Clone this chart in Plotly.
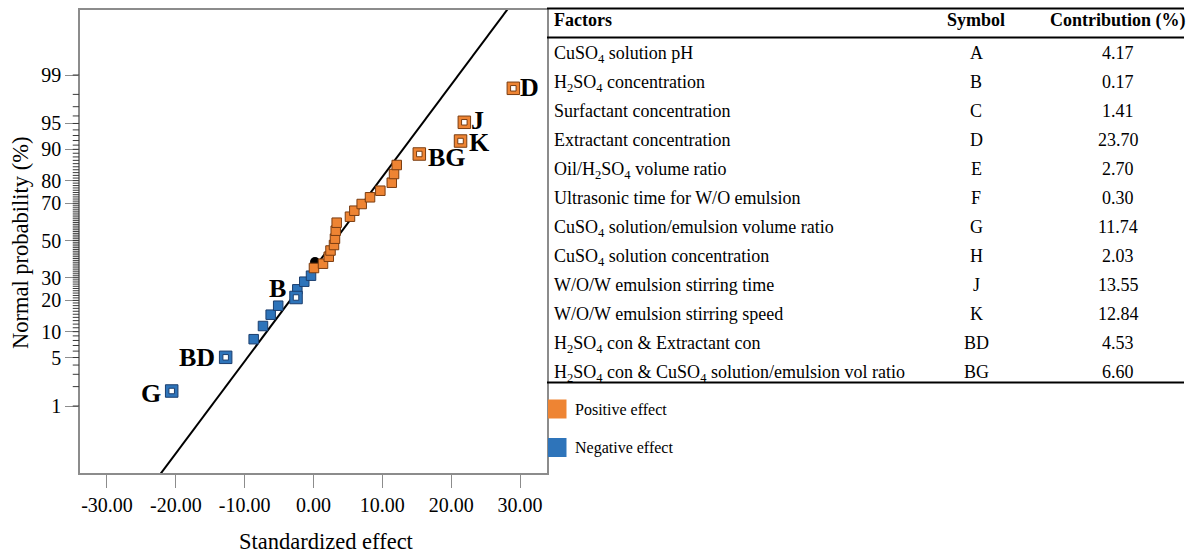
from statistics import NormalDist
import plotly.graph_objects as go

W, H = 1191, 557
SERIF = "Liberation Serif"
FRAME = "#8c8c8c"
MINOR = "#3a3a3a"
ORANGE, ORANGE_EDGE = "#EE8433", "#7a3c10"
BLUE, BLUE_EDGE = "#2E74BA", "#1b3e6e"

# ---- normal probability plot data (standardized effect, cumulative probability %) ----
pos_effect = [0.07, 1.38, 2.22, 2.47, 2.98, 3.12, 3.23, 3.37, 5.30, 5.93, 7.00, 8.21, 9.71, 11.37, 11.70, 12.09]
pos_prob = [34.95, 37.22, 40.99, 44.41, 47.48, 51.01, 55.48, 59.88, 63.10, 66.24, 69.60, 72.82, 75.80, 79.17, 82.51, 85.57]

neg_effect = [-8.69, -7.34, -6.22, -5.13, -2.35, -1.34, -0.36]
neg_prob = [8.27, 11.47, 14.85, 17.97, 24.63, 28.13, 31.04]

sig_terms = ["G", "BD", "B", "BG", "K", "J", "D"]
sig_effect = [-20.60, -12.76, -2.54, 15.37, 21.36, 21.91, 29.03]
sig_prob = [1.72, 5.03, 21.15, 88.80, 91.90, 95.17, 98.38]

center_effect = [0.22]
center_prob = [38.13]

# reference line: effect = mean + sd * z
fit_mean, fit_sd = 3.10, 7.72

y_tick_probs = [1, 5, 10, 20, 30, 50, 70, 80, 90, 95, 99]
y_minor_probs = list(range(1, 100))
x_tick_vals = [-30, -20, -10, 0, 10, 20, 30]

# ---- table data ----
factors = [
    "CuSO<sub>4</sub> solution pH",
    "H<sub>2</sub>SO<sub>4</sub> concentration",
    "Surfactant concentration",
    "Extractant concentration",
    "Oil/H<sub>2</sub>SO<sub>4</sub> volume ratio",
    "Ultrasonic time for W/O emulsion",
    "CuSO<sub>4</sub> solution/emulsion volume ratio",
    "CuSO<sub>4</sub> solution concentration",
    "W/O/W emulsion stirring time",
    "W/O/W emulsion stirring speed",
    "H<sub>2</sub>SO<sub>4</sub> con &amp; Extractant con",
    "H<sub>2</sub>SO<sub>4</sub> con &amp; CuSO<sub>4</sub> solution/emulsion vol ratio",
]
symbols = ["A", "B", "C", "D", "E", "F", "G", "H", "J", "K", "BD", "BG"]
contributions = ["4.17", "0.17", "1.41", "23.70", "2.70", "0.30", "11.74", "2.03", "13.55", "12.84", "4.53", "6.60"]

nd = NormalDist()


def z(p):
    return nd.inv_cdf(p / 100.0)


def fx(px):
    return px / W


def fy(py):
    return 1 - py / H


# plot area in pixels
PL, PR, PT, PB = 80, 547, 10, 473
Z_LO, Z_HI = -3.268, 3.240
Y_DOM = [fy(PB), fy(PT)]

fig = go.Figure()

# fitted normal line
zs = [Z_LO - 0.2, Z_HI + 0.2]
fig.add_trace(go.Scatter(x=[fit_mean + fit_sd * v for v in zs], y=zs, mode="lines",
                         line=dict(color="black", width=2), hoverinfo="skip"))

# center point
fig.add_trace(go.Scatter(x=center_effect, y=[z(p) for p in center_prob], mode="markers",
                         marker=dict(symbol="circle", size=10, color="black")))

# negative effects (filled)
fig.add_trace(go.Scatter(x=neg_effect, y=[z(p) for p in neg_prob], mode="markers",
                         marker=dict(symbol="square", size=9.5, color=BLUE,
                                     line=dict(color=BLUE_EDGE, width=1))))
# positive effects (filled)
fig.add_trace(go.Scatter(x=pos_effect, y=[z(p) for p in pos_prob], mode="markers",
                         marker=dict(symbol="square", size=9.5, color=ORANGE,
                                     line=dict(color=ORANGE_EDGE, width=1))))

# significant terms: ring squares
sig_col = [BLUE if e < 0 else ORANGE for e in sig_effect]
sig_edge = [BLUE_EDGE if e < 0 else ORANGE_EDGE for e in sig_effect]
sig_z = [z(p) for p in sig_prob]
fig.add_trace(go.Scatter(x=sig_effect, y=sig_z, mode="markers",
                         marker=dict(symbol="square", size=12.5, color=sig_col,
                                     line=dict(color=sig_edge, width=1))))
fig.add_trace(go.Scatter(x=sig_effect, y=sig_z, mode="markers",
                         marker=dict(symbol="square", size=5.5, color="white",
                                     line=dict(color=sig_edge, width=1))))

# minor probability ticks (one per percent), drawn in a narrow strip left of the axis
tick_x, tick_y = [], []
for p in y_minor_probs:
    tick_x += [0, 1, None]
    tick_y += [z(p), z(p), None]
fig.add_trace(go.Scatter(x=tick_x, y=tick_y, xaxis="x2", yaxis="y2", mode="lines",
                         line=dict(color=MINOR, width=1), hoverinfo="skip"))

# term labels
label_place = {
    "D": ("left", 6, 1),
    "J": ("left", 6, 2),
    "K": ("left", 7, -1),
    "BG": ("left", 8, -4),
    "B": ("right", -9, 9),
    "BD": ("right", -10, 0),
    "G": ("right", -10, -2),
}
annotations = []
for t, e, zz in zip(sig_terms, sig_effect, sig_z):
    anchor, dx, dy = label_place[t]
    annotations.append(dict(x=e, y=zz, xref="x", yref="y", text=f"<b>{t}</b>", showarrow=False,
                            xanchor=anchor, yanchor="middle", xshift=dx, yshift=dy, borderpad=0,
                            font=dict(family=SERIF, size=26, color="black")))

# axis titles
annotations.append(dict(x=fx(326), y=fy(541), xref="paper", yref="paper", text="Standardized effect",
                        showarrow=False, xanchor="center", yanchor="middle",
                        font=dict(family=SERIF, size=22.5, color="black")))
annotations.append(dict(x=fx(20), y=fy(243), xref="paper", yref="paper", text="Normal probability (%)",
                        showarrow=False, xanchor="center", yanchor="middle", textangle=-90,
                        font=dict(family=SERIF, size=22.5, color="black")))

# ---- table ----
TFONT = dict(family=SERIF, size=18, color="black")
HEAD_Y = 20
ROW0, ROW_STEP = 52.7, 29.0
X_FACT, X_SYM, X_CONT = 552, 976, 1118

annotations.append(dict(x=fx(X_FACT), y=fy(HEAD_Y), xref="paper", yref="paper", text="<b>Factors</b>",
                        showarrow=False, xanchor="left", yanchor="middle", font=TFONT))
annotations.append(dict(x=fx(X_SYM), y=fy(HEAD_Y), xref="paper", yref="paper", text="<b>Symbol</b>",
                        showarrow=False, xanchor="center", yanchor="middle", font=TFONT))
annotations.append(dict(x=fx(X_CONT), y=fy(HEAD_Y), xref="paper", yref="paper", text="<b>Contribution (%)</b>",
                        showarrow=False, xanchor="center", yanchor="middle", font=TFONT))
for i, (f, s, c) in enumerate(zip(factors, symbols, contributions)):
    yy = fy(ROW0 + i * ROW_STEP)
    sub_shift = -2 if "<sub>" in f else 0
    annotations.append(dict(x=fx(X_FACT), y=yy, xref="paper", yref="paper", text=f, showarrow=False,
                            xanchor="left", yanchor="middle", yshift=sub_shift, font=TFONT))
    annotations.append(dict(x=fx(X_SYM), y=yy, xref="paper", yref="paper", text=s, showarrow=False,
                            xanchor="center", yanchor="middle", font=TFONT))
    annotations.append(dict(x=fx(X_CONT), y=yy, xref="paper", yref="paper", text=c, showarrow=False,
                            xanchor="center", yanchor="middle", font=TFONT))

shapes = []
for ry in (8.5, 37.5, 382.5):
    shapes.append(dict(type="line", xref="paper", yref="paper", x0=fx(547), x1=fx(1184),
                       y0=fy(ry), y1=fy(ry), line=dict(color="black", width=2)))

# ---- legend ----
LEG = [("Positive effect", ORANGE, 409), ("Negative effect", BLUE, 447.5)]
for txt, col, cy in LEG:
    shapes.append(dict(type="rect", xref="paper", yref="paper", x0=fx(548), x1=fx(566.5),
                       y0=fy(cy - 9.5), y1=fy(cy + 9.5), fillcolor=col, line=dict(width=0)))
    annotations.append(dict(x=fx(573), y=fy(cy + 0.5), xref="paper", yref="paper", text=txt,
                            showarrow=False, xanchor="left", yanchor="middle",
                            font=dict(family=SERIF, size=16, color="black")))

axis_common = dict(showline=True, mirror=True, linecolor=FRAME, linewidth=1.5, showgrid=False,
                   zeroline=False, ticks="outside", ticklen=13, tickcolor=FRAME, tickwidth=1,
                   tickfont=dict(family=SERIF, size=20, color="black"))

fig.update_layout(
    width=W, height=H,
    margin=dict(l=0, r=0, t=0, b=0, pad=0),
    paper_bgcolor="white", plot_bgcolor="white",
    showlegend=False,
    xaxis=dict(domain=[fx(PL), fx(PR)], range=[-33.92, 33.92], tickmode="array",
               tickvals=x_tick_vals, ticktext=[f"{v:.2f}" for v in x_tick_vals], **axis_common),
    yaxis=dict(domain=Y_DOM, range=[Z_LO, Z_HI], tickmode="array",
               tickvals=[z(p) for p in y_tick_probs], ticktext=[str(p) for p in y_tick_probs],
               **axis_common),
    xaxis2=dict(domain=[fx(PL - 7.5), fx(PL - 0.75)], range=[0, 1], anchor="y2", visible=False),
    yaxis2=dict(domain=Y_DOM, range=[Z_LO, Z_HI], anchor="x2", visible=False),
    annotations=annotations,
    shapes=shapes,
)

fig.write_html("out.html")
